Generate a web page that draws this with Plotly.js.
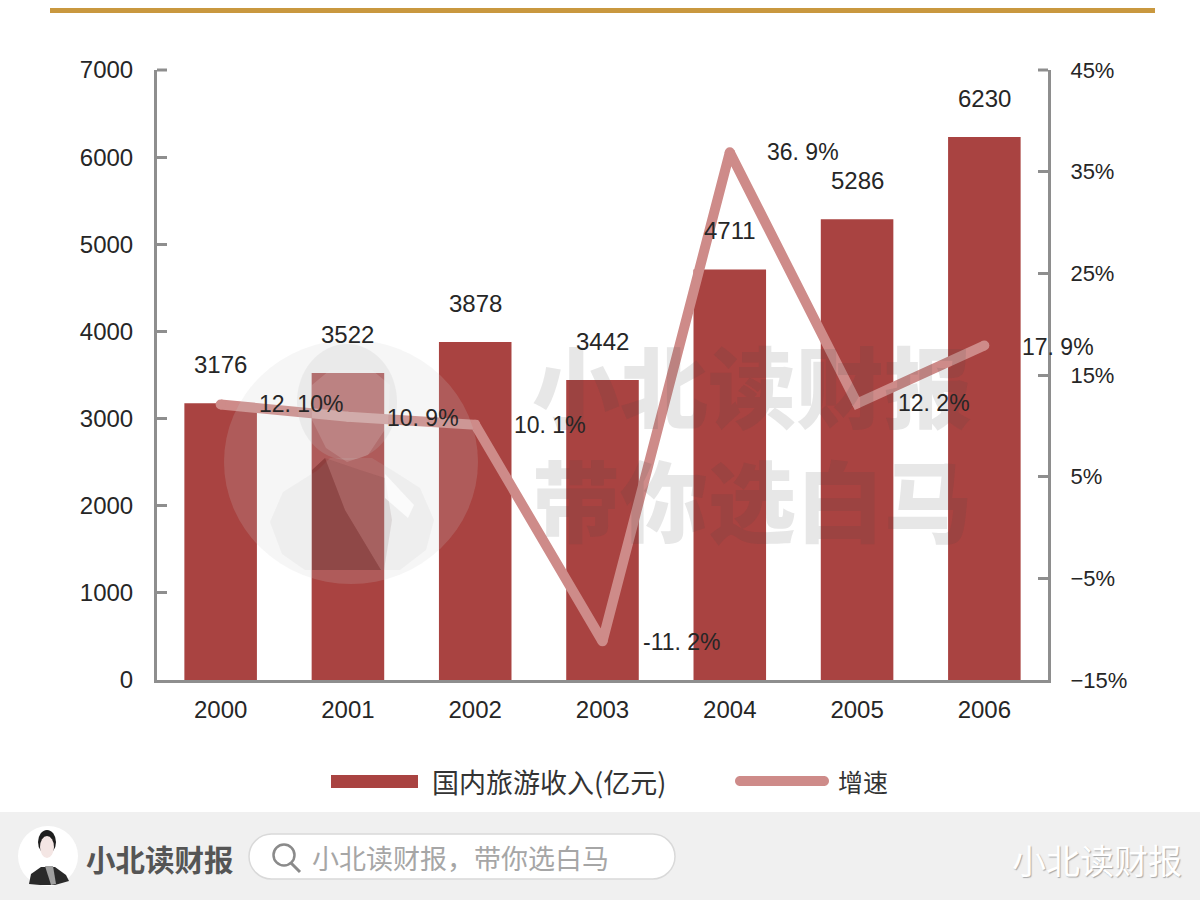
<!DOCTYPE html>
<html>
<head>
<meta charset="utf-8">
<script src="https://cdn.plot.ly/plotly-3.0.1.min.js"></script>
<style>html,body{margin:0;padding:0;background:#fff}#chart{width:1200px;height:900px}</style>
</head>
<body>
<div id="chart"></div>
<script>
// ---------- data ----------
const years = ['2000','2001','2002','2003','2004','2005','2006'];
const revenue = [3176,3522,3878,3442,4711,5286,6230];
const growth = [12.1,10.9,10.1,-11.2,36.9,12.2,17.9];
const growthLabels = ['12. 10%','10. 9%','10. 1%','-11. 2%','36. 9%','12. 2%','17. 9%'];
const leftTicks = [0,1000,2000,3000,4000,5000,6000,7000];
const rightTicks = [-15,-5,5,15,25,35,45];
const rightTickText = ['−15%','−5%','5%','15%','25%','35%','45%'];
const barName = '国内旅游收入(亿元)';
const lineName = '增速';
const brand = '小北读财报';
const slogan = '带你选白马';
const searchHint = '小北读财报，带你选白马';

// ---------- layout constants ----------
const L=157,R=1048,T=70,B=680,W=1200,H=900;
const px=x=>(x-L)/(R-L), py=y=>(B-y)/(B-T);
const NUM='"Liberation Sans", Arial, sans-serif', CJK='"Noto Sans CJK SC", sans-serif';
const BAR='#A94341', LINE='#CE8B89', AXIS='#8E8E8E', TXT='#262626';
const growthDx=[80,75,75,79,73,77,74], growthDy=[0,-1,0,-1,0,0,-1];

// pixel-space helpers for decorative shapes
function rect(x0,y0,x1,y1,fill,line){return {type:'rect',xref:'paper',yref:'paper',x0:px(x0),x1:px(x1),y0:py(y0),y1:py(y1),fillcolor:fill,line:line||{width:0},layer:'above'};}
function circ(cx,cy,rx,ry,fill,line){return {type:'circle',xref:'paper',yref:'paper',x0:px(cx-rx),x1:px(cx+rx),y0:py(cy-ry),y1:py(cy+ry),fillcolor:fill,line:line||{width:0},layer:'above'};}
function poly(pts,fill,line,closed){
  const d=pts.map((p,i)=>(i?'L':'M')+px(p[0])+','+py(p[1])).join(' ')+(closed===false?'':' Z');
  return {type:'path',xref:'paper',yref:'paper',path:d,fillcolor:closed===false?'rgba(0,0,0,0)':fill,line:line||{width:0},layer:'above'};
}
function pill(x0,y0,x1,y1,fill,line){
  const r=(y1-y0)/2,k=r*0.55,P=(x,y)=>px(x)+','+py(y);
  const d='M'+P(x0+r,y0)+' L'+P(x1-r,y0)+' C'+P(x1-r+k,y0)+' '+P(x1,y0+r-k)+' '+P(x1,y0+r)+
    ' C'+P(x1,y1-r+k)+' '+P(x1-r+k,y1)+' '+P(x1-r,y1)+' L'+P(x0+r,y1)+
    ' C'+P(x0+r-k,y1)+' '+P(x0,y1-r+k)+' '+P(x0,y0+r)+' C'+P(x0,y0+r-k)+' '+P(x0+r-k,y0)+' '+P(x0+r,y0)+' Z';
  return {type:'path',xref:'paper',yref:'paper',path:d,fillcolor:fill,line:line||{width:0},layer:'above'};
}
function note(x,y,text,size,color,font,anchor,weight,shadow){
  return {xref:'paper',yref:'paper',x:px(x),y:py(y),text:text,showarrow:false,xanchor:anchor||'left',yanchor:'middle',
    font:Object.assign({size:size,color:color,family:font,weight:weight||400},shadow?{shadow:shadow}:{})};
}

const shapes=[
  rect(50,8,1155,13,'#C9983F'),
  // end ticks of the two value axes (Plotly drops inside ticks at the range ends)
  rect(157,68.5,167,71.5,AXIS),
  rect(1038,68.5,1048,71.5,AXIS),
  // watermark portrait
  circ(351,462,127,122,'rgba(205,205,205,0.18)'),
  poly([[305,570],[282,554],[270,522],[283,492],[318,470],[330,458],[372,458],[395,472],[420,488],[434,520],[426,550],[400,570]],'rgba(190,190,190,0.14)'),
  circ(347,402,50,58,'rgba(190,190,190,0.20)'),
  poly([[312,385],[330,370],[372,370],[390,385],[388,425],[368,455],[347,462],[326,448],[312,420]],'rgba(255,255,255,0.14)'),
  poly([[325,458],[345,510],[381,570],[312,570],[312,470]],'rgba(80,10,10,0.34)'),
  poly([[325,458],[360,470],[385,478],[392,520],[384,570],[381,570],[345,510]],'rgba(70,30,30,0.10)'),
  poly([[385,474],[414,505],[408,518],[385,498]],'rgba(255,255,255,0.75)'),
  // legend keys
  rect(331,775,418,788,BAR),
  pill(735,776,829,786,LINE),
  // footer
  rect(0,812,1200,900,'#F0F0F0'),
  circ(48,856,30,30,'#FFFFFF'),
  poly([[29,884],[31,874],[41,867],[55,867],[66,875],[69,881],[55,885],[40,885]],'#2A2A2A'),
  poly([[45,866],[53,866],[56,884],[51,885]],'#A0A0A0'),
  circ(47,842,9,12,'#1E1E1E'),
  circ(47,847,7,11,'#F4E6E4'),
  pill(249,834,675,879,'#FFFFFF',{color:'#D9D9D9',width:1.5}),
  circ(284,855,10.5,10.5,'rgba(0,0,0,0)',{color:'#8A8A8A',width:2.5}),
  poly([[291,863],[300,872]],'',{color:'#8A8A8A',width:3},false)
];

const annotations=[
  note(752,439,brand+'<br>'+slogan,88,'rgba(70,70,70,0.13)',CJK,'center',900)
];
years.forEach((y,i)=>{
  annotations.push({x:i,y:revenue[i],xref:'x',yref:'y',text:String(revenue[i]),showarrow:false,yshift:39,
    font:{size:24,color:TXT,family:NUM}});
  annotations.push({x:i,y:growth[i],xref:'x',yref:'y2',text:growthLabels[i],showarrow:false,xshift:growthDx[i],yshift:growthDy[i],
    font:{size:23,color:TXT,family:NUM}});
});
annotations.push(
  note(430,781,barName,27,'#333333',CJK),
  note(836,781,lineName,25,'#333333',CJK),
  note(84,858,brand,29.5,'#555555',CJK,'left',700),
  note(310,857,searchHint,27,'#A6A6A6',CJK),
  note(1010,860,brand,34,'#FFFFFF',CJK,'left',400,'1px 1px 1px rgba(110,110,110,0.55)')
);

const data=[
  {type:'bar',name:barName,x:years,y:revenue,marker:{color:BAR,line:{width:0}},width:0.57,yaxis:'y',hoverinfo:'x+y'},
  {type:'scatter',mode:'lines+markers',name:lineName,x:years,y:growth,yaxis:'y2',
    line:{color:LINE,width:10,shape:'linear'},marker:{color:LINE,size:10,line:{width:0}},cliponaxis:false}
];

const layout={
  width:W,height:H,showlegend:false,paper_bgcolor:'#FFFFFF',plot_bgcolor:'rgba(0,0,0,0)',
  margin:{l:L,r:W-R,t:T,b:H-B,pad:0},
  xaxis:{type:'category',range:[-0.5,6.5],showgrid:false,zeroline:false,showline:true,linecolor:AXIS,linewidth:3,ticks:'',
    tickfont:{size:24,color:TXT,family:NUM},ticklabelstandoff:6,fixedrange:true},
  yaxis:{range:[0,7000],tickvals:leftTicks,ticktext:leftTicks.map(String),showgrid:false,zeroline:false,showline:true,linecolor:AXIS,linewidth:3,
    ticks:'inside',ticklen:10,tickwidth:3,tickcolor:AXIS,tickfont:{size:24,color:TXT,family:NUM},ticklabelstandoff:16,fixedrange:true},
  yaxis2:{overlaying:'y',side:'right',range:[-15,45],tickvals:rightTicks,ticktext:rightTickText,showgrid:false,zeroline:false,showline:true,linecolor:AXIS,linewidth:3,
    ticks:'inside',ticklen:10,tickwidth:3,tickcolor:AXIS,tickfont:{size:22,color:TXT,family:NUM},ticklabelstandoff:15,fixedrange:true},
  shapes:shapes,annotations:annotations
};
Plotly.newPlot('chart',data,layout,{displayModeBar:false,staticPlot:true});
</script>
</body>
</html>
